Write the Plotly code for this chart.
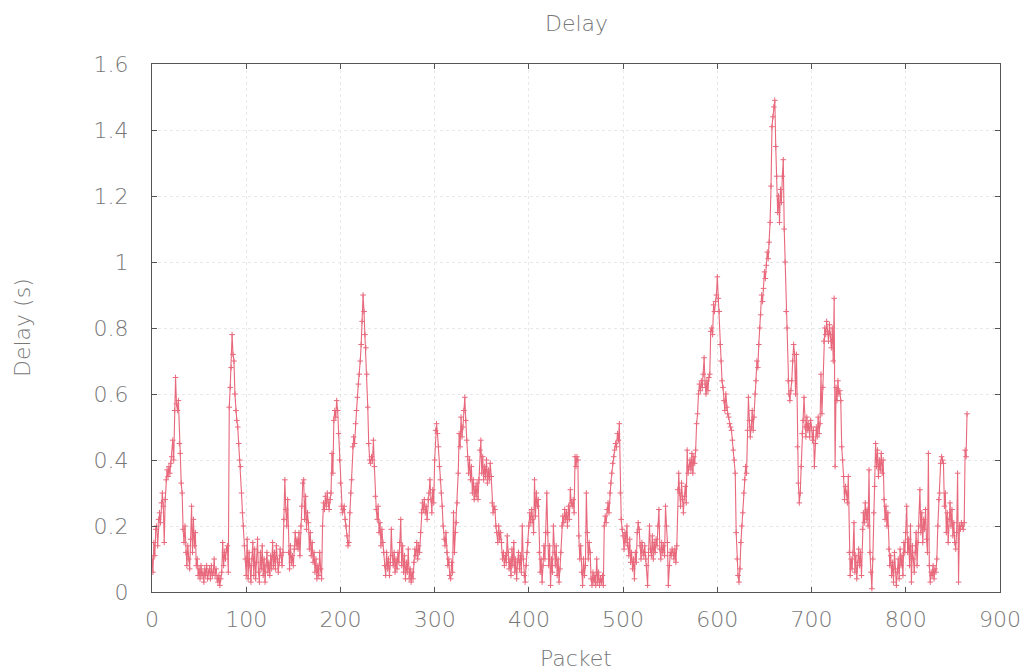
import plotly.graph_objects as go

delay_s = [
    0.10, 0.06, 0.15, 0.11, 0.19, 0.20, 0.14, 0.22, 0.24, 0.21,
    0.27, 0.30, 0.26, 0.15, 0.28, 0.34, 0.37, 0.35, 0.38, 0.36,
    0.39, 0.41, 0.46, 0.40, 0.55, 0.65, 0.57, 0.55, 0.58, 0.45,
    0.42, 0.33, 0.30, 0.19, 0.15, 0.20, 0.12, 0.08, 0.14, 0.10,
    0.07, 0.16, 0.26, 0.12, 0.22, 0.14, 0.18, 0.08, 0.10, 0.05,
    0.07, 0.04, 0.08, 0.05, 0.06, 0.03, 0.07, 0.05, 0.08, 0.04,
    0.06, 0.07, 0.04, 0.08, 0.05, 0.06, 0.10, 0.05, 0.07, 0.04,
    0.03, 0.05, 0.02, 0.04, 0.06, 0.15, 0.08, 0.12, 0.10, 0.13,
    0.14, 0.06, 0.56, 0.62, 0.68, 0.78, 0.72, 0.70, 0.60, 0.55,
    0.52, 0.50, 0.45, 0.40, 0.38, 0.30, 0.24, 0.20, 0.14, 0.10,
    0.05, 0.16, 0.04, 0.12, 0.08, 0.03, 0.10, 0.15, 0.05, 0.13,
    0.04, 0.09, 0.16, 0.06, 0.03, 0.12, 0.07, 0.14, 0.05, 0.10,
    0.03, 0.08, 0.12, 0.06, 0.09, 0.05, 0.11, 0.07, 0.15, 0.08,
    0.12, 0.07, 0.14, 0.10, 0.06, 0.09, 0.13, 0.11, 0.08, 0.12,
    0.22, 0.34, 0.25, 0.20, 0.28, 0.12, 0.07, 0.14, 0.09, 0.11,
    0.08, 0.13, 0.18, 0.14, 0.16, 0.13, 0.18, 0.11, 0.20, 0.26,
    0.33, 0.34, 0.22, 0.29, 0.19, 0.24, 0.21, 0.13, 0.18, 0.11,
    0.15, 0.09, 0.12, 0.06, 0.10, 0.04, 0.08, 0.05, 0.12, 0.07,
    0.04, 0.20, 0.27, 0.25, 0.29, 0.26, 0.30, 0.27, 0.25, 0.28,
    0.30, 0.42, 0.36, 0.52, 0.55, 0.53, 0.58, 0.55, 0.48, 0.40,
    0.33, 0.26, 0.24, 0.25, 0.26, 0.22, 0.20, 0.17, 0.14, 0.15,
    0.24, 0.30, 0.34, 0.44, 0.47, 0.45, 0.51, 0.55, 0.59, 0.63,
    0.66, 0.70, 0.75, 0.82, 0.90, 0.85, 0.78, 0.74, 0.66, 0.56,
    0.45, 0.40, 0.39, 0.41, 0.40, 0.46, 0.38, 0.29, 0.25, 0.22,
    0.26, 0.18, 0.21, 0.14, 0.19, 0.15, 0.12, 0.08, 0.05, 0.12,
    0.07, 0.10, 0.05, 0.09, 0.19, 0.11, 0.08, 0.12, 0.06, 0.10,
    0.07, 0.12, 0.09, 0.15, 0.22, 0.08, 0.14, 0.06, 0.11, 0.04,
    0.09, 0.06, 0.13, 0.04, 0.07, 0.03, 0.06, 0.04, 0.09, 0.13,
    0.11, 0.15, 0.10, 0.14, 0.12, 0.18, 0.24, 0.27, 0.25, 0.28,
    0.24, 0.26, 0.22, 0.28, 0.30, 0.34, 0.28, 0.24, 0.31, 0.27,
    0.40, 0.49, 0.51, 0.48, 0.44, 0.38, 0.34, 0.30, 0.26, 0.20,
    0.16, 0.14, 0.18, 0.12, 0.08, 0.10, 0.05, 0.04, 0.09, 0.06,
    0.24, 0.12, 0.18, 0.21, 0.27, 0.36, 0.48, 0.44, 0.53, 0.47,
    0.50, 0.55, 0.59, 0.52, 0.46, 0.41, 0.36, 0.40, 0.34, 0.38,
    0.30, 0.34, 0.28, 0.32, 0.29, 0.33, 0.28, 0.34, 0.43, 0.46,
    0.36, 0.41, 0.34, 0.38, 0.35, 0.40, 0.33, 0.37, 0.34, 0.39,
    0.35, 0.27, 0.24, 0.26, 0.25, 0.20, 0.18, 0.15, 0.20, 0.16,
    0.18, 0.15, 0.10, 0.12, 0.08, 0.11, 0.09, 0.17, 0.12, 0.07,
    0.10, 0.05, 0.13, 0.08, 0.15, 0.06, 0.10, 0.04, 0.09, 0.12,
    0.07, 0.11, 0.06, 0.20, 0.10, 0.05, 0.03, 0.08, 0.12, 0.15,
    0.20, 0.24, 0.21, 0.25, 0.22, 0.18, 0.34, 0.23, 0.30, 0.26,
    0.28, 0.12, 0.06, 0.10, 0.03, 0.08, 0.14, 0.10, 0.18, 0.30,
    0.18, 0.08, 0.14, 0.02, 0.10, 0.06, 0.20, 0.12, 0.08, 0.14,
    0.05, 0.10, 0.03, 0.07, 0.12, 0.20, 0.23, 0.21, 0.25, 0.22,
    0.24, 0.20, 0.26, 0.22, 0.31, 0.27, 0.26, 0.28, 0.24, 0.41,
    0.38, 0.41, 0.40, 0.17, 0.10, 0.14, 0.06, 0.02, 0.10, 0.05,
    0.08, 0.30, 0.18, 0.10, 0.15, 0.12, 0.04, 0.02, 0.06, 0.03,
    0.05, 0.02, 0.10, 0.03, 0.06, 0.02, 0.04, 0.03, 0.05, 0.02,
    0.20, 0.23, 0.21, 0.25, 0.27, 0.24, 0.30, 0.33, 0.36, 0.39,
    0.41, 0.43, 0.45, 0.44, 0.48, 0.46, 0.51, 0.30, 0.22, 0.19,
    0.17, 0.13, 0.18, 0.15, 0.20, 0.14, 0.11, 0.16, 0.09, 0.12,
    0.07, 0.10, 0.04, 0.12, 0.09, 0.18, 0.21, 0.19, 0.14, 0.10,
    0.15, 0.12, 0.11, 0.14, 0.10, 0.08, 0.02, 0.12, 0.20, 0.13,
    0.11, 0.17, 0.10, 0.15, 0.12, 0.16, 0.14, 0.20, 0.25, 0.13,
    0.10, 0.15, 0.12, 0.14, 0.11, 0.26, 0.20, 0.15, 0.02, 0.08,
    0.12, 0.11, 0.13, 0.12, 0.10, 0.13, 0.09, 0.14, 0.31, 0.36,
    0.30, 0.26, 0.33, 0.28, 0.24, 0.29, 0.32, 0.27, 0.43, 0.36,
    0.38, 0.40, 0.37, 0.42, 0.36, 0.41, 0.39, 0.43, 0.51, 0.54,
    0.60, 0.63, 0.61, 0.64, 0.62, 0.66, 0.71, 0.63, 0.60, 0.64,
    0.61, 0.65, 0.66, 0.79, 0.80, 0.78, 0.87, 0.85, 0.88, 0.90,
    0.955, 0.89, 0.85, 0.75, 0.70, 0.64, 0.62, 0.58, 0.55, 0.60,
    0.56, 0.54, 0.53, 0.51, 0.50, 0.49, 0.46, 0.43, 0.40, 0.36,
    0.18, 0.10, 0.05, 0.03, 0.07, 0.15, 0.20, 0.24, 0.30, 0.34,
    0.38, 0.36, 0.49, 0.59, 0.52, 0.47, 0.50, 0.55, 0.49, 0.53,
    0.60, 0.64, 0.70, 0.68, 0.75, 0.80, 0.84, 0.90, 0.88, 0.92,
    0.97, 0.95, 0.99, 1.03, 1.01, 1.06, 1.12, 1.23, 1.41, 1.44,
    1.47, 1.49, 1.35, 1.26, 1.15, 1.20, 1.12, 1.22, 1.18, 1.26,
    1.31, 1.10, 1.00, 0.85, 0.80, 0.64, 0.60, 0.58, 0.61, 0.64,
    0.70, 0.75, 0.72, 0.60, 0.72, 0.44, 0.33, 0.27, 0.30, 0.38,
    0.48, 0.52, 0.59, 0.50, 0.47, 0.53, 0.49, 0.51, 0.47, 0.52,
    0.50, 0.46, 0.49, 0.38, 0.45, 0.50, 0.47, 0.53, 0.48, 0.51,
    0.66, 0.54, 0.62, 0.76, 0.80, 0.78, 0.82, 0.79, 0.76, 0.81,
    0.78, 0.74, 0.80, 0.70, 0.89, 0.38, 0.62, 0.58, 0.64, 0.60,
    0.61, 0.58, 0.44, 0.40, 0.35, 0.28, 0.32, 0.30, 0.27, 0.35,
    0.12, 0.05, 0.10, 0.07, 0.12, 0.21, 0.06, 0.11, 0.04, 0.09,
    0.13, 0.08, 0.12, 0.05, 0.19, 0.24, 0.21, 0.27, 0.22, 0.25,
    0.20, 0.37, 0.12, 0.06, 0.01, 0.10, 0.24, 0.32, 0.45, 0.38,
    0.43, 0.35, 0.40, 0.37, 0.42, 0.36, 0.40, 0.28, 0.22, 0.26,
    0.20, 0.24, 0.13, 0.08, 0.11, 0.05, 0.09, 0.03, 0.12, 0.07,
    0.02, 0.06, 0.10, 0.04, 0.13, 0.08, 0.11, 0.05, 0.15, 0.12,
    0.18, 0.26, 0.12, 0.16, 0.08, 0.20, 0.03, 0.14, 0.10, 0.06,
    0.12, 0.18, 0.08, 0.15, 0.20, 0.31, 0.18, 0.24, 0.15, 0.22,
    0.19, 0.25, 0.16, 0.12, 0.42, 0.08, 0.03, 0.06, 0.05, 0.08,
    0.04, 0.07, 0.06, 0.10, 0.20, 0.28, 0.30, 0.39, 0.41, 0.40,
    0.39, 0.26, 0.30, 0.18, 0.24, 0.15, 0.22, 0.27, 0.20, 0.25,
    0.17, 0.21, 0.15, 0.13, 0.18, 0.36, 0.03, 0.20, 0.19, 0.21,
    0.20, 0.19, 0.21, 0.43, 0.41, 0.54,
]
packet = list(range(len(delay_s)))

x_ticks = [0, 100, 200, 300, 400, 500, 600, 700, 800, 900]
y_ticks = [0, 0.2, 0.4, 0.6, 0.8, 1, 1.2, 1.4, 1.6]

title_text = "Delay"
x_title = "Packet"
y_title = "Delay (s)"

line_color = "#e8687c"
text_color = "#777777"
font_family = "DejaVu Sans, Verdana, sans-serif"
font_size = 22

fig = go.Figure()
fig.add_trace(go.Scatter(
    x=packet, y=delay_s, mode="lines+markers",
    line=dict(color=line_color, width=1.1),
    marker=dict(symbol="cross-thin", size=4, line=dict(color=line_color, width=1)),
    showlegend=False,
))

tick_font = dict(family=font_family, size=font_size, color=text_color, weight=300)

axis_common = dict(
    showline=True, linecolor="#555555", linewidth=1, mirror="ticks",
    ticks="inside", ticklen=5, tickcolor="#555555",
    showgrid=True, gridcolor="#e8e8e8", griddash="dot", gridwidth=1,
    zeroline=False, ticklabeloverflow="allow",
    tickfont=tick_font,
)

fig.update_layout(
    width=1025, height=664,
    paper_bgcolor="white", plot_bgcolor="white",
    margin=dict(l=144, r=28, t=56, b=80),
    font=dict(family=font_family, color=text_color),
    xaxis=dict(range=[0, 900], tickvals=x_ticks, ticklabelstandoff=8, **axis_common),
    yaxis=dict(range=[0, 1.6], tickvals=y_ticks, ticklabelstandoff=18, **axis_common),
    annotations=[
        dict(text=title_text, xref="paper", yref="paper", x=0.5, y=1, yshift=41,
             xanchor="center", yanchor="middle", showarrow=False, font=tick_font),
        dict(text=x_title, xref="paper", yref="paper", x=0.5, y=0, yshift=-66,
             xanchor="center", yanchor="middle", showarrow=False, font=tick_font),
        dict(text=y_title, xref="paper", yref="paper", x=0, y=0.5, xshift=-130,
             xanchor="center", yanchor="middle", textangle=-90, showarrow=False, font=tick_font),
    ],
)

fig.write_html("out.html")
